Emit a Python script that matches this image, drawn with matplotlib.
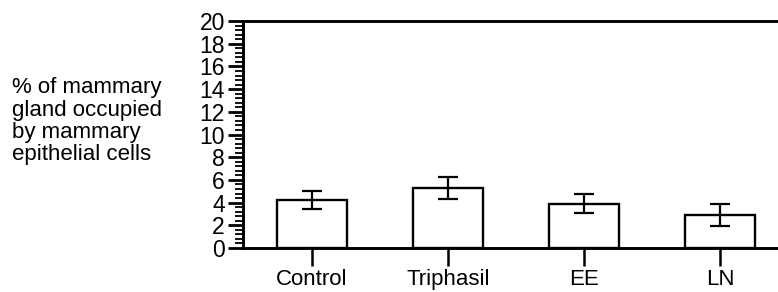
import numpy as np
import matplotlib
matplotlib.use('Agg')
import matplotlib.pyplot as plt
from matplotlib.ticker import MultipleLocator

plt.rcParams['font.family'] = ['Liberation Sans', 'DejaVu Sans']

groups = ['Control', 'Triphasil', 'EE', 'LN']
means = [4.25, 5.3, 3.9, 2.9]
errors = [0.8, 0.95, 0.85, 0.95]
y_ticks = [0, 2, 4, 6, 8, 10, 12, 14, 16, 18, 20]

fig = plt.figure(figsize=(7.78, 2.92), dpi=100)
ax = fig.add_axes([0.3123, 0.1507, 0.6877, 0.777])

x = np.arange(len(groups))
ax.bar(x, means, width=0.51, color='white', edgecolor='black', linewidth=1.7, zorder=2)
ax.errorbar(x, means, yerr=errors, fmt='none', ecolor='black', elinewidth=1.6,
            capsize=7.5, capthick=1.6, zorder=3)

ax.set_xlim(-0.507, 3.427)
ax.set_ylim(0, 20)
ax.set_yticks(y_ticks)
ax.yaxis.set_minor_locator(MultipleLocator(0.4))
ax.set_xticks(x)
ax.set_xticklabels(groups)

ax.spines['right'].set_visible(False)
for s in ['left', 'bottom', 'top']:
    ax.spines[s].set_linewidth(2.1)

ax.tick_params(axis='y', which='major', direction='out', length=11, width=2,
               labelsize=16.5, pad=2)
ax.tick_params(axis='y', which='minor', direction='out', length=6, width=1.3)
ax.tick_params(axis='x', which='major', direction='out', length=13, width=1.8,
               labelsize=16, pad=2)

fig.text(0.015, 0.585, '% of mammary\ngland occupied\nby mammary\nepithelial cells',
         fontsize=16, ha='left', va='center', linespacing=1.08)

fig.savefig('out.png', dpi=100)
